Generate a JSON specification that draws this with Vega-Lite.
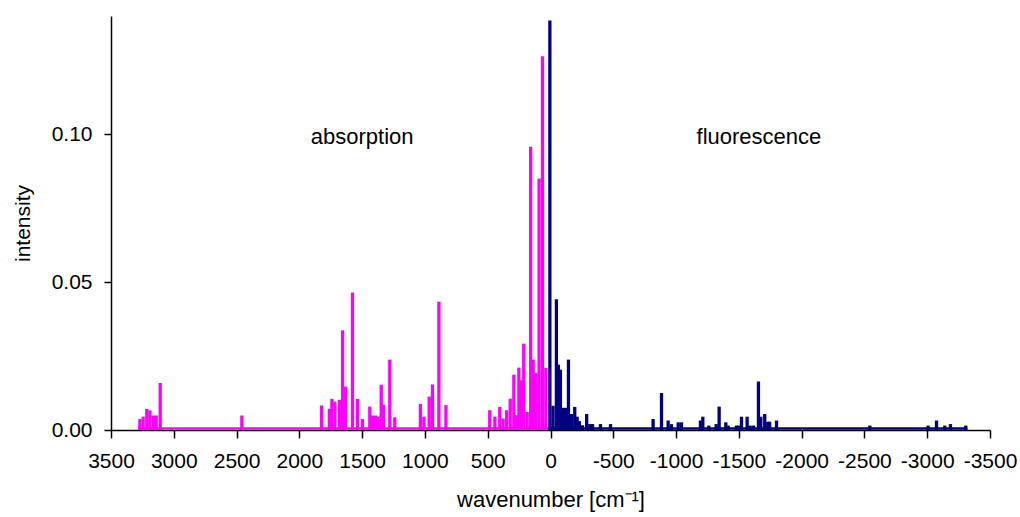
{
  "$schema": "https://vega.github.io/schema/vega-lite/v6.json",
  "width": 879,
  "height": 414,
  "autosize": {"type": "none"},
  "padding": {"left": 111, "top": 16, "right": 30, "bottom": 87},
  "background": "white",
  "config": {
    "view": {"stroke": null},
    "font": "Liberation Sans",
    "axis": {
      "grid": false,
      "domainColor": "#000000",
      "tickColor": "#000000",
      "labelColor": "#000000",
      "titleColor": "#000000",
      "domainWidth": 1.5,
      "tickWidth": 1.5,
      "labelFont": "Liberation Sans",
      "titleFont": "Liberation Sans",
      "labelFontSize": 21,
      "titleFontSize": 21,
      "titleFontWeight": "normal",
      "labelOverlap": false,
      "labelFlush": false
    }
  },
  "datasets": {
    "bars": [
      {"series": "absorption", "wavenumber": 3270, "intensity": 0.0037},
      {"series": "absorption", "wavenumber": 3244, "intensity": 0.0045},
      {"series": "absorption", "wavenumber": 3215, "intensity": 0.0071},
      {"series": "absorption", "wavenumber": 3190, "intensity": 0.0066},
      {"series": "absorption", "wavenumber": 3163, "intensity": 0.0049},
      {"series": "absorption", "wavenumber": 3140, "intensity": 0.0049},
      {"series": "absorption", "wavenumber": 3108, "intensity": 0.0159},
      {"series": "absorption", "wavenumber": 2458, "intensity": 0.0049},
      {"series": "absorption", "wavenumber": 1823, "intensity": 0.0083},
      {"series": "absorption", "wavenumber": 1761, "intensity": 0.0071},
      {"series": "absorption", "wavenumber": 1741, "intensity": 0.0105},
      {"series": "absorption", "wavenumber": 1717, "intensity": 0.0096},
      {"series": "absorption", "wavenumber": 1679, "intensity": 0.0102},
      {"series": "absorption", "wavenumber": 1656, "intensity": 0.0337},
      {"series": "absorption", "wavenumber": 1632, "intensity": 0.0147},
      {"series": "absorption", "wavenumber": 1577, "intensity": 0.0465},
      {"series": "absorption", "wavenumber": 1537, "intensity": 0.0105},
      {"series": "absorption", "wavenumber": 1497, "intensity": 0.0037},
      {"series": "absorption", "wavenumber": 1439, "intensity": 0.0079},
      {"series": "absorption", "wavenumber": 1418, "intensity": 0.0049},
      {"series": "absorption", "wavenumber": 1394, "intensity": 0.0049},
      {"series": "absorption", "wavenumber": 1372, "intensity": 0.0045},
      {"series": "absorption", "wavenumber": 1348, "intensity": 0.0153},
      {"series": "absorption", "wavenumber": 1330, "intensity": 0.0085},
      {"series": "absorption", "wavenumber": 1280, "intensity": 0.0238},
      {"series": "absorption", "wavenumber": 1240, "intensity": 0.0043},
      {"series": "absorption", "wavenumber": 1036, "intensity": 0.0088},
      {"series": "absorption", "wavenumber": 1008, "intensity": 0.0045},
      {"series": "absorption", "wavenumber": 966, "intensity": 0.0113},
      {"series": "absorption", "wavenumber": 940, "intensity": 0.0154},
      {"series": "absorption", "wavenumber": 889, "intensity": 0.0434},
      {"series": "absorption", "wavenumber": 833, "intensity": 0.0084},
      {"series": "absorption", "wavenumber": 484, "intensity": 0.0067},
      {"series": "absorption", "wavenumber": 443, "intensity": 0.0045},
      {"series": "absorption", "wavenumber": 404, "intensity": 0.0078},
      {"series": "absorption", "wavenumber": 378, "intensity": 0.0039},
      {"series": "absorption", "wavenumber": 350, "intensity": 0.0067},
      {"series": "absorption", "wavenumber": 321, "intensity": 0.0106},
      {"series": "absorption", "wavenumber": 292, "intensity": 0.0187},
      {"series": "absorption", "wavenumber": 270, "intensity": 0.005},
      {"series": "absorption", "wavenumber": 252, "intensity": 0.0211},
      {"series": "absorption", "wavenumber": 233, "intensity": 0.0168},
      {"series": "absorption", "wavenumber": 213, "intensity": 0.0292},
      {"series": "absorption", "wavenumber": 186, "intensity": 0.0061},
      {"series": "absorption", "wavenumber": 158, "intensity": 0.0958},
      {"series": "absorption", "wavenumber": 138, "intensity": 0.0238},
      {"series": "absorption", "wavenumber": 117, "intensity": 0.0193},
      {"series": "absorption", "wavenumber": 91, "intensity": 0.085},
      {"series": "absorption", "wavenumber": 64, "intensity": 0.1264},
      {"series": "absorption", "wavenumber": 37, "intensity": 0.021},
      {"series": "fluorescence", "wavenumber": 5, "intensity": 0.1385},
      {"series": "fluorescence", "wavenumber": -20, "intensity": 0.0082},
      {"series": "fluorescence", "wavenumber": -47, "intensity": 0.0442},
      {"series": "fluorescence", "wavenumber": -63, "intensity": 0.0221},
      {"series": "fluorescence", "wavenumber": -79, "intensity": 0.0204},
      {"series": "fluorescence", "wavenumber": -102, "intensity": 0.0075},
      {"series": "fluorescence", "wavenumber": -122, "intensity": 0.0075},
      {"series": "fluorescence", "wavenumber": -143, "intensity": 0.0238},
      {"series": "fluorescence", "wavenumber": -167, "intensity": 0.0054},
      {"series": "fluorescence", "wavenumber": -193, "intensity": 0.0078},
      {"series": "fluorescence", "wavenumber": -212, "intensity": 0.0045},
      {"series": "fluorescence", "wavenumber": -230, "intensity": 0.003},
      {"series": "fluorescence", "wavenumber": -255, "intensity": 0.0016},
      {"series": "fluorescence", "wavenumber": -288, "intensity": 0.0054},
      {"series": "fluorescence", "wavenumber": -313, "intensity": 0.002},
      {"series": "fluorescence", "wavenumber": -335, "intensity": 0.002},
      {"series": "fluorescence", "wavenumber": -398, "intensity": 0.002},
      {"series": "fluorescence", "wavenumber": -478, "intensity": 0.002},
      {"series": "fluorescence", "wavenumber": -817, "intensity": 0.0037},
      {"series": "fluorescence", "wavenumber": -884, "intensity": 0.0125},
      {"series": "fluorescence", "wavenumber": -937, "intensity": 0.0032},
      {"series": "fluorescence", "wavenumber": -963, "intensity": 0.002},
      {"series": "fluorescence", "wavenumber": -1017, "intensity": 0.0026},
      {"series": "fluorescence", "wavenumber": -1043, "intensity": 0.0026},
      {"series": "fluorescence", "wavenumber": -1194, "intensity": 0.0032},
      {"series": "fluorescence", "wavenumber": -1213, "intensity": 0.0045},
      {"series": "fluorescence", "wavenumber": -1261, "intensity": 0.0015},
      {"series": "fluorescence", "wavenumber": -1319, "intensity": 0.002},
      {"series": "fluorescence", "wavenumber": -1343, "intensity": 0.0079},
      {"series": "fluorescence", "wavenumber": -1396, "intensity": 0.0026},
      {"series": "fluorescence", "wavenumber": -1415, "intensity": 0.0015},
      {"series": "fluorescence", "wavenumber": -1480, "intensity": 0.0015},
      {"series": "fluorescence", "wavenumber": -1497, "intensity": 0.0015},
      {"series": "fluorescence", "wavenumber": -1521, "intensity": 0.0045},
      {"series": "fluorescence", "wavenumber": -1566, "intensity": 0.0045},
      {"series": "fluorescence", "wavenumber": -1590, "intensity": 0.0015},
      {"series": "fluorescence", "wavenumber": -1617, "intensity": 0.0015},
      {"series": "fluorescence", "wavenumber": -1656, "intensity": 0.0164},
      {"series": "fluorescence", "wavenumber": -1675, "intensity": 0.0045},
      {"series": "fluorescence", "wavenumber": -1706, "intensity": 0.0054},
      {"series": "fluorescence", "wavenumber": -1730, "intensity": 0.0028},
      {"series": "fluorescence", "wavenumber": -1745, "intensity": 0.0028},
      {"series": "fluorescence", "wavenumber": -1800, "intensity": 0.0032},
      {"series": "fluorescence", "wavenumber": -2543, "intensity": 0.0015},
      {"series": "fluorescence", "wavenumber": -3007, "intensity": 0.0015},
      {"series": "fluorescence", "wavenumber": -3074, "intensity": 0.0032},
      {"series": "fluorescence", "wavenumber": -3140, "intensity": 0.0015},
      {"series": "fluorescence", "wavenumber": -3185, "intensity": 0.002},
      {"series": "fluorescence", "wavenumber": -3307, "intensity": 0.0015}
    ],
    "baseline": [
      {"series": "absorption", "wavenumber": 3285, "wavenumber_end": 20},
      {"series": "fluorescence", "wavenumber": 20, "wavenumber_end": -3320}
    ],
    "labels": [
      {"label": "absorption", "wavenumber": 1500, "intensity": 0.099},
      {"label": "fluorescence", "wavenumber": -1660, "intensity": 0.099}
    ]
  },
  "layer": [
    {
      "data": {"name": "baseline"},
      "mark": {"type": "rule", "strokeWidth": 2.5, "yOffset": -1.5},
      "encoding": {
        "x": {"field": "wavenumber", "type": "quantitative",
          "scale": {"domain": [-3500, 3500], "reverse": true, "nice": false, "zero": false, "padding": 0},
          "axis": {"title": "wavenumber [cm\u207B\u00B9]", "values": [3500, 3000, 2500, 2000, 1500, 1000, 500, 0, -500, -1000, -1500, -2000, -2500, -3000, -3500],
            "labelExpr": "'' + datum.value", "tickSize": 8, "labelPadding": 12, "titlePadding": 18, "titleFontSize": 22}},
        "x2": {"field": "wavenumber_end"},
        "y": {"datum": 0, "type": "quantitative",
          "scale": {"domain": [0, 0.14], "nice": false},
          "axis": {"title": "intensity", "values": [0, 0.05, 0.1], "format": ".2f", "tickSize": 7, "labelPadding": 12, "titlePadding": 18}},
        "color": {"field": "series", "type": "nominal",
          "scale": {"domain": ["absorption", "fluorescence"], "range": ["#ff00ff", "#000080"]}, "legend": null}
      }
    },
    {
      "data": {"name": "bars"},
      "mark": {"type": "bar", "width": 3.3},
      "encoding": {
        "x": {"field": "wavenumber", "type": "quantitative",
          "scale": {"domain": [-3500, 3500], "reverse": true, "nice": false, "zero": false, "padding": 0},
          "axis": {"title": "wavenumber [cm\u207B\u00B9]", "values": [3500, 3000, 2500, 2000, 1500, 1000, 500, 0, -500, -1000, -1500, -2000, -2500, -3000, -3500],
            "labelExpr": "'' + datum.value", "tickSize": 8, "labelPadding": 12, "titlePadding": 18, "titleFontSize": 22}},
        "y": {"field": "intensity", "type": "quantitative",
          "scale": {"domain": [0, 0.14], "nice": false},
          "axis": {"title": "intensity", "values": [0, 0.05, 0.1], "format": ".2f", "tickSize": 7, "labelPadding": 12, "titlePadding": 18}},
        "color": {"field": "series", "type": "nominal",
          "scale": {"domain": ["absorption", "fluorescence"], "range": ["#ff00ff", "#000080"]}, "legend": null}
      }
    },
    {
      "data": {"name": "labels"},
      "mark": {"type": "text", "fontSize": 22, "align": "center", "baseline": "middle", "color": "#000000", "font": "Liberation Sans"},
      "encoding": {
        "x": {"field": "wavenumber", "type": "quantitative"},
        "y": {"field": "intensity", "type": "quantitative"},
        "text": {"field": "label", "type": "nominal"}
      }
    }
  ]
}
